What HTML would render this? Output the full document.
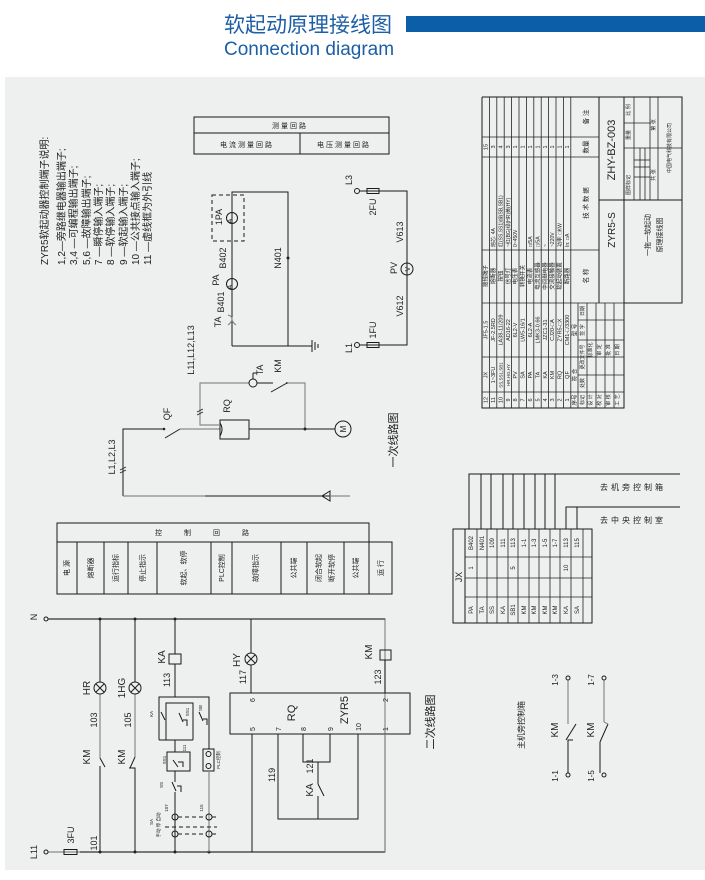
<!DOCTYPE html>
<html><head><meta charset="utf-8"><style>
html,body{margin:0;padding:0;background:#fff;width:705px;height:880px;overflow:hidden}
svg{display:block}
text{font-family:"Liberation Sans","Noto Sans CJK SC",sans-serif;fill:#222}
.k{stroke:#1a1a1a;stroke-width:1;fill:none}
.g{stroke:#8a8a8a;stroke-width:1.2;fill:none}
.d{stroke:#1a1a1a;stroke-width:1;fill:none;stroke-dasharray:4 3}
.t{stroke:#222;stroke-width:0.8;fill:none}
</style></head><body>
<svg width="705" height="880" viewBox="0 0 705 880" xmlns="http://www.w3.org/2000/svg">
<!-- header -->
<text x="224" y="32" font-size="21" style="fill:#1d5fa6" font-family="Liberation Sans,Noto Sans CJK SC,sans-serif">软起动原理接线图</text>
<rect x="406" y="16" width="299" height="16" fill="#0d5ea8"/>
<text x="224" y="55" font-size="19" style="fill:#1d5fa6">Connection diagram</text>
<rect x="5" y="77" width="700" height="793" fill="#eeefef"/>

<!-- notes -->
<g font-size="10">
<text transform="translate(48 265) rotate(-90)">ZYR5软起动器控制端子说明:</text>
<text transform="translate(65 265) rotate(-90)">1,2—旁路继电器输出端子;</text>
<text transform="translate(77 265) rotate(-90)">3,4 —可编程输出端子;</text>
<text transform="translate(90 265) rotate(-90)">5,6 —故障输出端子;</text>
<text transform="translate(102 265) rotate(-90)">7 —瞬停输入端子;</text>
<text transform="translate(114 265) rotate(-90)">8 —软停输入端子;</text>
<text transform="translate(127 265) rotate(-90)">9 —软起输入端子;</text>
<text transform="translate(139 265) rotate(-90)">10 —公共接点输入端子;</text>
<text transform="translate(151 265) rotate(-90)">11 —虚线框为外引线</text>
</g>

<!-- measurement table -->
<rect x="194" y="117" width="195" height="37" class="k"/>
<line x1="194" y1="133" x2="389" y2="133" class="k"/>
<line x1="300" y1="133" x2="300" y2="154" class="k"/>
<g font-size="7" text-anchor="middle">
<text x="290" y="128" letter-spacing="2">测量回路</text>
<text x="247" y="147" letter-spacing="2">电流测量回路</text>
<text x="344" y="147" letter-spacing="2">电压测量回路</text>
</g>

<!-- current measurement circuit -->
<polyline points="232,346 232,192 288,192 288,346 232,346" class="k"/>
<line x1="288" y1="346" x2="312" y2="346" class="k"/>
<g class="k"><line x1="312" y1="340" x2="312" y2="352"/><line x1="315" y1="342" x2="315" y2="350"/><line x1="318" y1="344" x2="318" y2="348"/></g>
<rect x="212" y="195" width="32" height="46" class="d"/>
<circle cx="232" cy="218" r="5.5" fill="#eeefef" class="k"/>
<circle cx="232" cy="284" r="5.5" fill="#eeefef" class="k"/>
<path d="M228,325 q4,-3 4,-6 q0,-3 -4,-4 M236,325 q-4,-3 -4,-6" class="g"/>
<circle cx="288" cy="258" r="1.5" fill="#222"/>
<g font-size="9" text-anchor="middle">
<text transform="translate(232 221) rotate(-90)" font-size="7">A</text>
<text transform="translate(232 287) rotate(-90)" font-size="7">A</text>
<text transform="translate(222 217) rotate(-90)">1PA</text>
<text transform="translate(226 258) rotate(-90)">B402</text>
<text transform="translate(219 280) rotate(-90)">PA</text>
<text transform="translate(224 302) rotate(-90)">B401</text>
<text transform="translate(221 322) rotate(-90)">TA</text>
<text transform="translate(281 258) rotate(-90)">N401</text>
</g>

<!-- voltage circuit -->
<polyline points="360,191 407,191 407,345 360,345" class="k"/>
<circle cx="357" cy="191" r="2.5" fill="#eeefef" class="k"/>
<circle cx="357" cy="345" r="2.5" fill="#eeefef" class="k"/>
<rect x="367" y="188.5" width="12" height="5" fill="#eeefef" class="k"/>
<rect x="367" y="342.5" width="12" height="5" fill="#eeefef" class="k"/>
<circle cx="407" cy="269" r="6" fill="#eeefef" class="k"/>
<g font-size="9" text-anchor="middle">
<text transform="translate(410 269) rotate(-90)" font-size="7">V</text>
<text transform="translate(352 180) rotate(-90)">L3</text>
<text transform="translate(376 207) rotate(-90)">2FU</text>
<text transform="translate(403 232) rotate(-90)">V613</text>
<text transform="translate(397 268) rotate(-90)">PV</text>
<text transform="translate(403 306) rotate(-90)">V612</text>
<text transform="translate(376 330) rotate(-90)">1FU</text>
<text transform="translate(352 348) rotate(-90)">L1</text>
</g>

<!-- primary circuit -->
<polyline points="123,496 123,429 163,429" class="k"/>
<circle cx="164" cy="429" r="1.3" fill="#222"/>
<line x1="165" y1="438" x2="180" y2="429" class="k"/>
<line x1="180" y1="429" x2="220" y2="429" class="g"/>
<line x1="123" y1="496" x2="140" y2="496" class="g"/>
<line x1="140" y1="496" x2="205" y2="496" class="g"/>
<line x1="205" y1="496" x2="350" y2="496" class="k"/>
<path d="M330,491 L322,496 L330,501 Z" fill="none" class="k"/>
<line x1="330" y1="496" x2="350" y2="496" class="g"/>
<path d="M120,470 l6,-3 M120,473 l6,-3" class="t"/>
<rect x="220" y="420" width="29" height="19" class="k"/>
<path d="M220,423 q4,6 0,13" class="k"/>
<polyline points="220,425 200,425 200,383 249,383" class="g"/>
<path d="M197,412 l6,-3 M197,415 l6,-3" class="t"/>
<circle cx="253" cy="383" r="4" fill="#eeefef" class="k"/>
<line x1="253" y1="379" x2="253" y2="373" class="k"/><line x1="253" y1="373" x2="257" y2="373" class="k"/>
<line x1="257" y1="383" x2="273" y2="383" class="k"/>
<line x1="271" y1="392" x2="287" y2="383" class="k"/>
<circle cx="287" cy="383" r="1" fill="#222"/>
<polyline points="287,383 305,383 305,429" class="g"/>
<line x1="249" y1="429" x2="335" y2="429" class="k"/>
<circle cx="305" cy="429" r="1.5" fill="#222"/>
<circle cx="343" cy="429" r="8" fill="#eeefef" class="k"/>
<g font-size="9" text-anchor="middle">
<text transform="translate(346 429) rotate(-90)" font-size="8">M</text>
<text transform="translate(170 414) rotate(-90)">QF</text>
<text transform="translate(115 457) rotate(-90)">L1,L2,L3</text>
<text transform="translate(194 350) rotate(-90)">L11,L12,L13</text>
<text transform="translate(230 406) rotate(-90)">RQ</text>
<text transform="translate(263 370) rotate(-90)">TA</text>
<text transform="translate(281 366) rotate(-90)">KM</text>
<text transform="translate(397 440) rotate(-90)" font-size="11">一次线路图</text>
</g>

<!-- main title block / parts list -->
<polyline points="482,97 682,97 682,303 624,303 624,408 482,408 482,97" class="k"/>
<g class="t">
<line x1="489.4" y1="97" x2="489.4" y2="408"/><line x1="496.8" y1="97" x2="496.8" y2="408"/>
<line x1="504.2" y1="97" x2="504.2" y2="408"/><line x1="511.6" y1="97" x2="511.6" y2="408"/>
<line x1="519" y1="97" x2="519" y2="408"/><line x1="526.4" y1="97" x2="526.4" y2="408"/>
<line x1="533.8" y1="97" x2="533.8" y2="408"/><line x1="541.2" y1="97" x2="541.2" y2="408"/>
<line x1="548.6" y1="97" x2="548.6" y2="408"/><line x1="556" y1="97" x2="556" y2="408"/>
<line x1="563.4" y1="97" x2="563.4" y2="408"/><line x1="570.8" y1="97" x2="570.8" y2="408"/>
<line x1="578" y1="303" x2="578" y2="408"/>
<line x1="482" y1="137" x2="599" y2="137"/><line x1="482" y1="157" x2="599" y2="157"/>
<line x1="482" y1="250" x2="599" y2="250"/><line x1="482" y1="303" x2="682" y2="303"/>
<line x1="482" y1="357" x2="624" y2="357"/><line x1="482" y1="392" x2="624" y2="392"/>
<line x1="587" y1="303" x2="587" y2="408"/><line x1="596" y1="303" x2="596" y2="408"/>
<line x1="605" y1="303" x2="605" y2="408"/><line x1="614" y1="303" x2="614" y2="408"/>
<line x1="578" y1="375" x2="624" y2="375"/><line x1="578" y1="340" x2="624" y2="340"/><line x1="578" y1="320" x2="624" y2="320"/>
</g>
<line x1="599" y1="97" x2="599" y2="303" class="k"/>
<line x1="599" y1="200" x2="682" y2="200" class="k"/>
<line x1="624" y1="97" x2="624" y2="303" class="k"/>
<g class="t">
<line x1="634" y1="97" x2="634" y2="200"/><line x1="650" y1="97" x2="650" y2="200"/><line x1="658" y1="97" x2="658" y2="200"/>
<line x1="624" y1="123" x2="650" y2="123"/><line x1="624" y1="148" x2="682" y2="148"/>
<line x1="634" y1="160" x2="650" y2="160"/><line x1="634" y1="167" x2="650" y2="167"/><line x1="634" y1="177" x2="650" y2="177"/>
<line x1="640" y1="148" x2="640" y2="200"/><line x1="645" y1="148" x2="645" y2="200"/>
</g>
<g font-size="5.5" text-anchor="middle">
<!-- serials -->
<text transform="translate(487.5 400) rotate(-90)">12</text><text transform="translate(495 400) rotate(-90)">11</text>
<text transform="translate(502.4 400) rotate(-90)">10</text><text transform="translate(509.8 400) rotate(-90)">9</text>
<text transform="translate(517.2 400) rotate(-90)">8</text><text transform="translate(524.6 400) rotate(-90)">7</text>
<text transform="translate(532 400) rotate(-90)">6</text><text transform="translate(539.4 400) rotate(-90)">5</text>
<text transform="translate(546.8 400) rotate(-90)">4</text><text transform="translate(554.2 400) rotate(-90)">3</text>
<text transform="translate(561.6 400) rotate(-90)">2</text><text transform="translate(569 400) rotate(-90)">1</text>
<text transform="translate(576.4 400) rotate(-90)">序号</text>
<!-- symbols -->
<text transform="translate(487.5 375) rotate(-90)">JX</text><text transform="translate(495 375) rotate(-90)">1~3FU</text>
<text transform="translate(502.4 375) rotate(-90)" font-size="4.5">SS,SS1,SB1</text><text transform="translate(509.8 375) rotate(-90)" font-size="4.5">HR,HG,HY</text>
<text transform="translate(517.2 375) rotate(-90)">PV</text><text transform="translate(524.6 375) rotate(-90)">SA</text>
<text transform="translate(532 375) rotate(-90)">PA</text><text transform="translate(539.4 375) rotate(-90)">TA</text>
<text transform="translate(546.8 375) rotate(-90)">KA</text><text transform="translate(554.2 375) rotate(-90)">KM</text>
<text transform="translate(561.6 375) rotate(-90)">RQ</text><text transform="translate(569 375) rotate(-90)">QF</text>
<text transform="translate(576.4 375) rotate(-90)">符 合</text>
<!-- models -->
<text transform="translate(487.5 330) rotate(-90)">JF5-1.5</text><text transform="translate(495 330) rotate(-90)">JF-2.5RD</text>
<text transform="translate(502.4 330) rotate(-90)">LA38-11/209</text><text transform="translate(509.8 330) rotate(-90)">AD16-22</text>
<text transform="translate(517.2 330) rotate(-90)">6L2-V</text><text transform="translate(524.6 330) rotate(-90)">LW5-16/1</text>
<text transform="translate(532 330) rotate(-90)">6L2-A</text><text transform="translate(539.4 330) rotate(-90)">LMK3-0.66</text>
<text transform="translate(546.8 330) rotate(-90)">JZC1-31</text><text transform="translate(554.2 330) rotate(-90)">CJ20-□A</text>
<text transform="translate(561.6 330) rotate(-90)">ZYR5-□X</text><text transform="translate(569 330) rotate(-90)">CM1-□/3300</text>
<text transform="translate(576.4 330) rotate(-90)">型 号</text>
<!-- names -->
<text transform="translate(487.5 276) rotate(-90)">接线端子</text><text transform="translate(495 276) rotate(-90)">熔断器</text>
<text transform="translate(502.4 276) rotate(-90)">按钮</text><text transform="translate(509.8 276) rotate(-90)">信号灯</text>
<text transform="translate(517.2 276) rotate(-90)">电压表</text><text transform="translate(524.6 276) rotate(-90)">转换开关</text>
<text transform="translate(532 276) rotate(-90)">电流表</text><text transform="translate(539.4 276) rotate(-90)">电流互感器</text>
<text transform="translate(546.8 276) rotate(-90)">中间继电器</text><text transform="translate(554.2 276) rotate(-90)">交流接触器</text>
<text transform="translate(561.6 276) rotate(-90)">软起动装置</text><text transform="translate(569 276) rotate(-90)">断路器</text>
<text transform="translate(588 276) rotate(-90)" font-size="6.5">名 称</text>
<text transform="translate(588 203) rotate(-90)" font-size="6.5">技 术 数 据</text>
<text transform="translate(588 147) rotate(-90)" font-size="6.5">数量</text>
<text transform="translate(588 117) rotate(-90)" font-size="6.5">备 注</text>
<!-- quantities -->
<text transform="translate(487.5 147) rotate(-90)">15</text><text transform="translate(495 147) rotate(-90)">3</text>
<text transform="translate(502.4 147) rotate(-90)">4</text><text transform="translate(509.8 147) rotate(-90)">3</text>
<text transform="translate(517.2 147) rotate(-90)">1</text><text transform="translate(524.6 147) rotate(-90)">1</text>
<text transform="translate(532 147) rotate(-90)">1</text><text transform="translate(539.4 147) rotate(-90)">1</text>
<text transform="translate(546.8 147) rotate(-90)">1</text><text transform="translate(554.2 147) rotate(-90)">1</text>
<text transform="translate(561.6 147) rotate(-90)">1</text><text transform="translate(569 147) rotate(-90)">1</text>
</g>
<g font-size="5" text-anchor="start">
<text transform="translate(495 247) rotate(-90)">熔芯: 4A</text>
<text transform="translate(502.4 247) rotate(-90)">红(SS,SS1)绿(SB,SB1)</text>
<text transform="translate(509.8 247) rotate(-90)">~红(BG)绿(HR)黄(HY)</text>
<text transform="translate(517.2 247) rotate(-90)">0~450V</text>
<text transform="translate(532 247) rotate(-90)">□/5A</text>
<text transform="translate(539.4 247) rotate(-90)">□/5A</text>
<text transform="translate(546.8 247) rotate(-90)">~</text>
<text transform="translate(554.2 247) rotate(-90)">~220V</text>
<text transform="translate(561.6 247) rotate(-90)">功率: □KW</text>
<text transform="translate(569 247) rotate(-90)">In: □A</text>
</g>
<g font-size="5" text-anchor="middle">
<text transform="translate(584 400) rotate(-90)">标记</text><text transform="translate(584 383) rotate(-90)">处数</text>
<text transform="translate(584 357) rotate(-90)">更改文件号</text><text transform="translate(584 330) rotate(-90)">签 字</text>
<text transform="translate(584 311) rotate(-90)">日期</text>
<text transform="translate(592 400) rotate(-90)">设 计</text><text transform="translate(592 350) rotate(-90)">标准化</text>
<text transform="translate(601 400) rotate(-90)">校 对</text><text transform="translate(601 350) rotate(-90)">审 定</text>
<text transform="translate(610 400) rotate(-90)">审 核</text><text transform="translate(610 350) rotate(-90)">批 准</text>
<text transform="translate(619 400) rotate(-90)">工 艺</text><text transform="translate(619 350) rotate(-90)">日 期</text>
<text transform="translate(630 185) rotate(-90)">图样标记</text><text transform="translate(630 135) rotate(-90)">重量</text>
<text transform="translate(630 110) rotate(-90)">比 例</text>
<text transform="translate(655 175) rotate(-90)">共 张</text><text transform="translate(655 125) rotate(-90)">第 张</text>
<text transform="translate(671 148) rotate(-90)">中国电气科技有限公司</text>
</g>
<g text-anchor="middle">
<text transform="translate(615 150) rotate(-90)" font-size="11">ZHY-BZ-003</text>
<text transform="translate(615 230) rotate(-90)" font-size="10">ZYR5-S</text>
<text transform="translate(650 235) rotate(-90)" font-size="7">一拖一软起动</text>
<text transform="translate(662 235) rotate(-90)" font-size="7">原理接线图</text>
</g>

<!-- JX terminal table -->
<rect x="453" y="529" width="139" height="94" class="k"/>
<line x1="465" y1="529" x2="465" y2="623" class="k"/>
<g class="t">
<line x1="477" y1="529" x2="477" y2="623"/><line x1="487" y1="529" x2="487" y2="623"/>
<line x1="497" y1="529" x2="497" y2="623"/><line x1="508" y1="529" x2="508" y2="623"/>
<line x1="518" y1="529" x2="518" y2="623"/><line x1="529" y1="529" x2="529" y2="623"/>
<line x1="539" y1="529" x2="539" y2="623"/><line x1="550" y1="529" x2="550" y2="623"/>
<line x1="560" y1="529" x2="560" y2="623"/><line x1="571" y1="529" x2="571" y2="623"/>
<line x1="583" y1="529" x2="583" y2="623"/>
<line x1="465" y1="557" x2="592" y2="557"/><line x1="465" y1="578" x2="592" y2="578"/><line x1="465" y1="597" x2="592" y2="597"/>
</g>
<g class="k">
<polyline points="469,529 469,474 680,474"/>
<line x1="481" y1="529" x2="481" y2="474"/><line x1="491" y1="529" x2="491" y2="474"/>
<line x1="503" y1="529" x2="503" y2="474"/><line x1="513" y1="529" x2="513" y2="474"/>
<line x1="524" y1="529" x2="524" y2="474"/><line x1="535" y1="529" x2="535" y2="474"/>
<line x1="545" y1="529" x2="545" y2="474"/><line x1="555" y1="529" x2="555" y2="474"/>
<polyline points="566,529 566,507 680,507"/><line x1="577" y1="529" x2="577" y2="507"/>
</g>
<g font-size="6" text-anchor="middle">
<text transform="translate(462 577) rotate(-90)" font-size="9">JX</text>
<text transform="translate(473 543) rotate(-90)">B402</text><text transform="translate(484 543) rotate(-90)">N401</text>
<text transform="translate(494 543) rotate(-90)">109</text><text transform="translate(505 543) rotate(-90)">111</text>
<text transform="translate(515 543) rotate(-90)">113</text><text transform="translate(526 543) rotate(-90)">1-1</text>
<text transform="translate(536 543) rotate(-90)">1-3</text><text transform="translate(547 543) rotate(-90)">1-5</text>
<text transform="translate(557 543) rotate(-90)">1-7</text><text transform="translate(568 543) rotate(-90)">113</text>
<text transform="translate(579 543) rotate(-90)">115</text>
<text transform="translate(473 568) rotate(-90)">1</text><text transform="translate(515 568) rotate(-90)">5</text>
<text transform="translate(568 568) rotate(-90)">10</text>
<text transform="translate(473 610) rotate(-90)">PA</text><text transform="translate(484 610) rotate(-90)">TA</text>
<text transform="translate(494 610) rotate(-90)">SS</text><text transform="translate(505 610) rotate(-90)">KA</text>
<text transform="translate(515 610) rotate(-90)">SB1</text><text transform="translate(526 610) rotate(-90)">KM</text>
<text transform="translate(536 610) rotate(-90)">KM</text><text transform="translate(547 610) rotate(-90)">KM</text>
<text transform="translate(557 610) rotate(-90)">KM</text><text transform="translate(568 610) rotate(-90)">KA</text>
<text transform="translate(579 610) rotate(-90)">SA</text>
</g>
<g font-size="8">
<text x="600" y="490" letter-spacing="3">去机旁控制箱</text>
<text x="600" y="523" letter-spacing="3">去中央控制室</text>
</g>

<!-- KM contacts to local box -->
<g class="k">
<polyline points="568,773 568,740 573,740"/><line x1="566" y1="740" x2="576" y2="724"/>
<polyline points="600,773 600,742"/><line x1="600" y1="742" x2="608" y2="724"/>
</g>
<g class="g"><line x1="568" y1="724" x2="568" y2="680"/><line x1="608" y1="724" x2="604" y2="722"/><line x1="604" y1="722" x2="604" y2="680"/></g>
<g fill="#eeefef" class="k"><circle cx="568" cy="775" r="2"/><circle cx="568" cy="678" r="2"/><circle cx="604" cy="775" r="2"/><circle cx="604" cy="678" r="2"/></g>
<g font-size="8" text-anchor="middle">
<text transform="translate(558 776) rotate(-90)">1-1</text><text transform="translate(558 680) rotate(-90)">1-3</text>
<text transform="translate(594 776) rotate(-90)">1-5</text><text transform="translate(594 680) rotate(-90)">1-7</text>
<text transform="translate(558 730) rotate(-90)" font-size="10">KM</text>
<text transform="translate(594 730) rotate(-90)" font-size="10">KM</text>
<text transform="translate(524 725) rotate(-90)">主机旁控制箱</text>
</g>

<!-- control table -->
<polyline points="57,542 57,523 369,523 369,542" class="k"/>
<rect x="57" y="542" width="335" height="52" class="k"/>
<g class="k">
<line x1="77" y1="542" x2="77" y2="594"/><line x1="104" y1="542" x2="104" y2="594"/>
<line x1="128" y1="542" x2="128" y2="594"/><line x1="157" y1="542" x2="157" y2="594"/>
<line x1="211" y1="542" x2="211" y2="594"/><line x1="232" y1="542" x2="232" y2="594"/>
<line x1="281" y1="542" x2="281" y2="594"/><line x1="307" y1="542" x2="307" y2="594"/>
<line x1="344" y1="542" x2="344" y2="594"/><line x1="369" y1="542" x2="369" y2="594"/>
</g>
<g font-size="7" text-anchor="middle">
<text x="213" y="535" letter-spacing="22">控制回路</text>
<text transform="translate(69 568) rotate(-90)">电 源</text>
<text transform="translate(93 568) rotate(-90)">熔断器</text>
<text transform="translate(118 568) rotate(-90)">运行指标</text>
<text transform="translate(145 568) rotate(-90)">停止指示</text>
<text transform="translate(186 568) rotate(-90)">软起、软停</text>
<text transform="translate(224 568) rotate(-90)">PLC控制</text>
<text transform="translate(258 568) rotate(-90)">故障指示</text>
<text transform="translate(296 568) rotate(-90)">公共端</text>
<text transform="translate(321 568) rotate(-90)">闭合软起</text>
<text transform="translate(334 568) rotate(-90)">断开软停</text>
<text transform="translate(358 568) rotate(-90)">公共端</text>
<text transform="translate(383 568) rotate(-90)">运 行</text>
</g>

<!-- control circuit -->
<polyline points="48,619 385,619 385,852 48,852" class="g"/>
<line x1="48" y1="619" x2="385" y2="619" class="k"/>
<line x1="80" y1="852" x2="385" y2="852" class="k"/>
<circle cx="46" cy="619" r="2" fill="#eeefef" class="k"/>
<circle cx="46" cy="852" r="2" fill="#eeefef" class="k"/>
<rect x="64" y="849.5" width="13" height="5" fill="#eeefef" class="k"/>
<g fill="#222"><circle cx="100" cy="619" r="1.5"/><circle cx="135" cy="619" r="1.5"/><circle cx="175" cy="619" r="1.5"/>
<circle cx="100" cy="852" r="1.5"/><circle cx="135" cy="852" r="1.5"/><circle cx="175" cy="852" r="1.5"/><circle cx="209" cy="852" r="1.5"/></g>
<!-- HR -->
<line x1="100" y1="619" x2="100" y2="682" class="k"/>
<line x1="100" y1="694" x2="100" y2="758" class="g"/>
<line x1="100" y1="758" x2="105" y2="767" class="k"/>
<line x1="100" y1="766" x2="100" y2="852" class="k"/>
<!-- HG -->
<line x1="135" y1="619" x2="135" y2="682" class="k"/>
<line x1="135" y1="694" x2="135" y2="757" class="g"/>
<line x1="135" y1="757" x2="130" y2="768" class="k"/>
<polyline points="129,768 135,768 135,852" class="k"/>
<g fill="#eeefef" class="k"><circle cx="100" cy="688" r="6"/><circle cx="135" cy="688" r="6"/><circle cx="251" cy="659" r="6"/></g>
<path d="M96,684 l8,8 M104,684 l-8,8 M131,684 l8,8 M139,684 l-8,8 M247,655 l8,8 M255,655 l-8,8" class="k"/>
<!-- KA branch -->
<line x1="175" y1="619" x2="175" y2="654" class="k"/>
<rect x="169" y="654" width="12" height="10" fill="#eeefef" class="k"/>
<line x1="175" y1="664" x2="175" y2="697" class="k"/>
<polyline points="159,740 159,697 209,697 209,749" class="k"/>
<polyline points="166,740 166,703 193,703 193,740" class="k"/>
<line x1="159" y1="740" x2="193" y2="740" class="k"/>
<path d="M161,712 l4,8 M179,713 l4,9 M183,720 h4 v6 M199,712 l4,9 M203,719 h4 v6" class="k"/>
<line x1="175" y1="740" x2="175" y2="752" class="k"/>
<rect x="167" y="752" width="23" height="19" class="k"/>
<path d="M173,760 l5,7 M178,762 h5 v5" class="k"/>
<line x1="175" y1="771" x2="175" y2="782" class="k"/>
<path d="M172,782 l4,9 M177,786 h4 v6" class="k"/>
<line x1="175" y1="792" x2="175" y2="852" class="k"/>
<rect x="203" y="749" width="11" height="22" fill="#eeefef" class="k"/>
<circle cx="208.5" cy="754" r="2.5" class="k"/><circle cx="208.5" cy="766" r="2.5" class="k"/>
<line x1="209" y1="771" x2="209" y2="852" class="g"/>
<g fill="#eeefef" class="k"><circle cx="175" cy="817" r="3"/><circle cx="175" cy="834" r="3"/><circle cx="209" cy="817" r="3"/><circle cx="209" cy="834" r="3"/></g>
<path d="M178,817 h28 M178,834 h28 M165,827 h52 M212,817 h5 M212,834 h5" class="d"/>
<!-- HY -->
<line x1="251" y1="619" x2="251" y2="653" class="k"/>
<line x1="251" y1="665" x2="251" y2="693" class="k"/>
<!-- KM coil -->
<rect x="380" y="650" width="11" height="10" fill="#eeefef" class="k"/>
<!-- ZYR5 box -->
<rect x="230" y="693" width="180" height="41" fill="#eeefef" class="k"/>
<line x1="385" y1="660" x2="385" y2="693" class="k"/>
<line x1="385" y1="734" x2="385" y2="852" class="g"/>
<line x1="252" y1="734" x2="252" y2="852" class="k"/>
<polyline points="278,734 278,819 358,819 358,734" class="k"/>
<polyline points="303,734 303,762 330,762 330,734" class="k"/>
<line x1="318" y1="762" x2="318" y2="784" class="k"/>
<line x1="318" y1="784" x2="324" y2="796" class="k"/>
<line x1="318" y1="796" x2="318" y2="819" class="k"/>
<g font-size="9" text-anchor="middle">
<text transform="translate(90 688) rotate(-90)" font-size="10">HR</text>
<text transform="translate(125 688) rotate(-90)" font-size="10">1HG</text>
<text transform="translate(97 720) rotate(-90)">103</text>
<text transform="translate(131 720) rotate(-90)">105</text>
<text transform="translate(90 757) rotate(-90)" font-size="10">KM</text>
<text transform="translate(125 757) rotate(-90)" font-size="10">KM</text>
<text transform="translate(97 843) rotate(-90)">101</text>
<text transform="translate(74 835) rotate(-90)">3FU</text>
<text transform="translate(37 852) rotate(-90)">L11</text>
<text transform="translate(37 617) rotate(-90)">N</text>
<text transform="translate(165 657) rotate(-90)" font-size="10">KA</text>
<text transform="translate(170 680) rotate(-90)">113</text>
<text transform="translate(240 660) rotate(-90)" font-size="10">HY</text>
<text transform="translate(246 677) rotate(-90)">117</text>
<text transform="translate(372 652) rotate(-90)" font-size="10">KM</text>
<text transform="translate(381 677) rotate(-90)">123</text>
<text transform="translate(255 700) rotate(-90)" font-size="7">6</text>
<text transform="translate(388 700) rotate(-90)" font-size="7">2</text>
<text transform="translate(255 729) rotate(-90)" font-size="7">5</text>
<text transform="translate(281 729) rotate(-90)" font-size="7">7</text>
<text transform="translate(306 729) rotate(-90)" font-size="7">8</text>
<text transform="translate(333 729) rotate(-90)" font-size="7">9</text>
<text transform="translate(361 727) rotate(-90)" font-size="7">10</text>
<text transform="translate(388 729) rotate(-90)" font-size="7">1</text>
<text transform="translate(295 713) rotate(-90)" font-size="11">RQ</text>
<text transform="translate(348 710) rotate(-90)" font-size="11">ZYR5</text>
<text transform="translate(275 775) rotate(-90)">119</text>
<text transform="translate(313 766) rotate(-90)">121</text>
<text transform="translate(313 790) rotate(-90)" font-size="10">KA</text>
<text transform="translate(434 722) rotate(-90)" font-size="11">二次线路图</text>
</g>
<g font-size="4.5" text-anchor="middle">
<text transform="translate(153 714) rotate(-90)">KA</text>
<text transform="translate(189 712) rotate(-90)">SS1</text>
<text transform="translate(202 708) rotate(-90)">SB</text>
<text transform="translate(166 760) rotate(-90)">SS1</text>
<text transform="translate(186 748) rotate(-90)">111</text>
<text transform="translate(163 785) rotate(-90)">SS</text>
<text transform="translate(220 760) rotate(-90)">PLC控制</text>
<text transform="translate(168 808) rotate(-90)">107</text>
<text transform="translate(203 808) rotate(-90)">115</text>
<text transform="translate(153 822) rotate(-90)">SA</text>
<text transform="translate(160 825) rotate(-90)">手动 停 自动</text>
</g>
</svg>
</body></html>
